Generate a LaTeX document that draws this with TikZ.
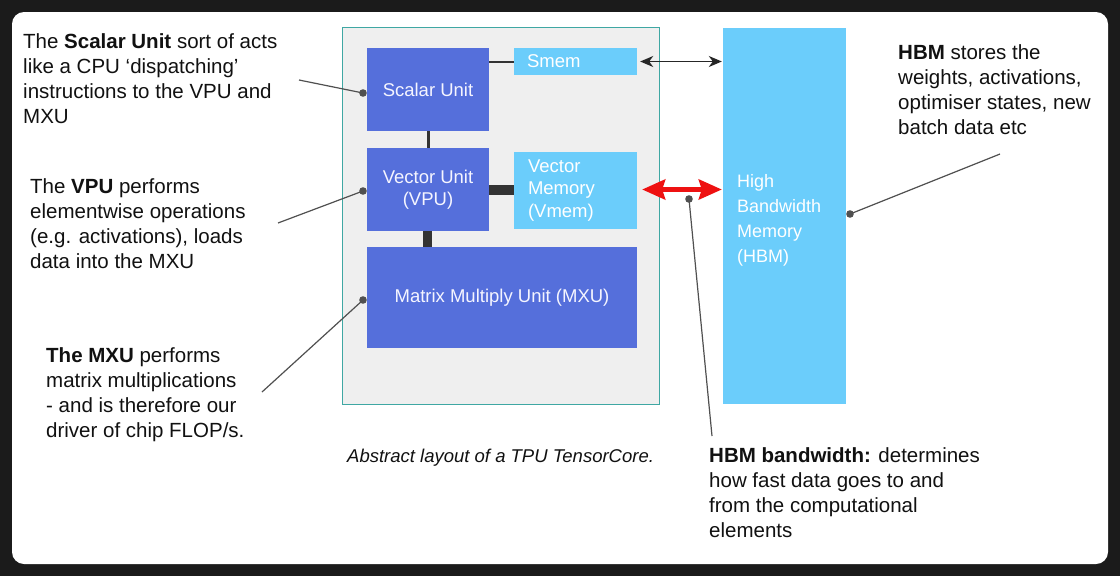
\documentclass[tikz,border=0pt]{standalone}
\usepackage{fontspec}
\setmainfont{Liberation Sans}
\usetikzlibrary{arrows.meta}
\definecolor{bgdark}{HTML}{1B1B1B}
\definecolor{chipfill}{HTML}{EFEFEF}
\definecolor{chipedge}{HTML}{3FA7A3}
\definecolor{dblue}{HTML}{556FDB}
\definecolor{lblue}{HTML}{6BCDFB}
\definecolor{barc}{HTML}{333333}
\definecolor{callc}{HTML}{505050}
\definecolor{txt}{HTML}{111111}
\definecolor{redarr}{HTML}{EE1111}
\begin{document}
\begin{tikzpicture}[x=1pt,y=-1pt,
  unitbox/.style={fill=dblue, draw=none, inner sep=0pt, text=white!96!blue, font=\fontsize{18.5}{22}\selectfont, align=center},
  membox/.style={fill=lblue, draw=none, inner sep=0pt, text=white, font=\fontsize{18.5}{22.5}\selectfont},
  bar/.style={draw=barc},
  callout/.style={draw=callc, line width=1.2pt},
  pin/.style={fill=callc},
  note/.style={anchor=base west, align=left, inner sep=0pt, text=txt, font=\fontsize{20.5}{24.7}\selectfont},
]
\useasboundingbox (0,0) rectangle (1120,576);
\fill[bgdark] (0,0) rectangle (1120,576);
\fill[white, rounded corners=12pt] (12,12) rectangle (1108,564);

% chip
\node[fill=chipfill, draw=chipedge, line width=1pt, minimum width=317pt, minimum height=377pt, inner sep=0pt] (chip) at (500.5,215.5) {};

\node[unitbox, minimum width=122pt, minimum height=83pt] (scalar) at (428,89.5) {Scalar Unit};
\node[membox, minimum width=123pt, minimum height=27pt, text width=97pt, inner xsep=13pt, align=left] (smem) at (575.5,61.5) {Smem};
\node[unitbox, minimum width=122pt, minimum height=83pt] (vpu) at (428,189.5) {Vector Unit\\(VPU)};
\node[membox, minimum width=123pt, minimum height=77pt, text width=95pt, inner xsep=14pt, align=left] (vmem) at (575.5,190.5) {Vector\\Memory\\(Vmem)};
\node[unitbox, minimum width=270pt, minimum height=101pt] (mxu) at (502,297.5) {Matrix Multiply Unit (MXU)};

% HBM
\node[fill=lblue, minimum width=123pt, minimum height=376pt, inner sep=0pt] (hbm) at (784.5,216) {};
\node[anchor=base west, align=left, inner sep=0pt, text=white, font=\fontsize{18}{25}\selectfont] (hbmtxt) at (737,262) {High\\Bandwidth\\Memory\\(HBM)};

% internal connectors
\draw[bar, line width=2pt] (scalar.east |- smem.west) -- (smem.west);
\draw[bar, line width=3pt] (scalar.south) -- (vpu.north);
\draw[bar, line width=10pt] (vpu.east) -- (vpu.east -| vmem.west);
\draw[bar, line width=9pt] ([xshift=-0.5pt]vpu.south) -- ([xshift=-0.5pt]mxu.north -| vpu.south);

% arrows to HBM
\draw[black!85, line width=1.5pt, {Stealth[length=13pt,width=11pt,inset=4pt]}-{Stealth[length=13pt,width=11pt,inset=4pt]}]
  ([xshift=3pt]smem.east) -- ([xshift=-1pt]hbm.west |- smem.east);
\draw[redarr, line width=4.5pt, {Stealth[length=23pt,width=20pt,inset=3pt]}-{Stealth[length=23pt,width=20pt,inset=3pt]}]
  ([xshift=5pt]vpu.east -| vmem.east) -- ([xshift=-1pt]hbm.west |- vpu.east);

% text notes (anchored at the baseline of their last line)
\node[note] (t1) at (23,123) {The \textbf{Scalar Unit} sort of acts\\like a CPU ‘dispatching’\\instructions to the VPU and\\MXU};
\node[note] (t2) at (30,268) {The \textbf{VPU} performs\\elementwise operations\\(e.g. activations), loads\\data into the MXU};
\node[note] (t3) at (46,437) {\textbf{The MXU} performs\\matrix multiplications\\- and is therefore our\\driver of chip FLOP/s.};
\node[note] (t4) at (709,537) {\textbf{HBM bandwidth:} determines\\how fast data goes to and\\from the computational\\elements};
\node[note] (t5) at (898,134) {\textbf{HBM} stores the\\weights, activations,\\optimiser states, new\\batch data etc};
\node[note, font=\fontsize{18.5}{22}\selectfont\itshape] (cap) at (347,462) {Abstract layout of a TPU TensorCore.};

% callouts
\coordinate (s1) at (299,80);   \coordinate (d1) at (363,93);
\coordinate (s2) at (278,223);  \coordinate (d2) at (363,191);
\coordinate (s3) at (262,392);  \coordinate (d3) at (363,300);
\coordinate (s4) at (712,436);  \coordinate (d4) at (689,199);
\coordinate (s5) at (1000,154); \coordinate (d5) at (850,214);
\foreach \i in {1,...,5}{
  \draw[callout] (s\i) -- (d\i);
  \fill[pin] (d\i) circle[radius=3.8pt];
}
\end{tikzpicture}
\end{document}
